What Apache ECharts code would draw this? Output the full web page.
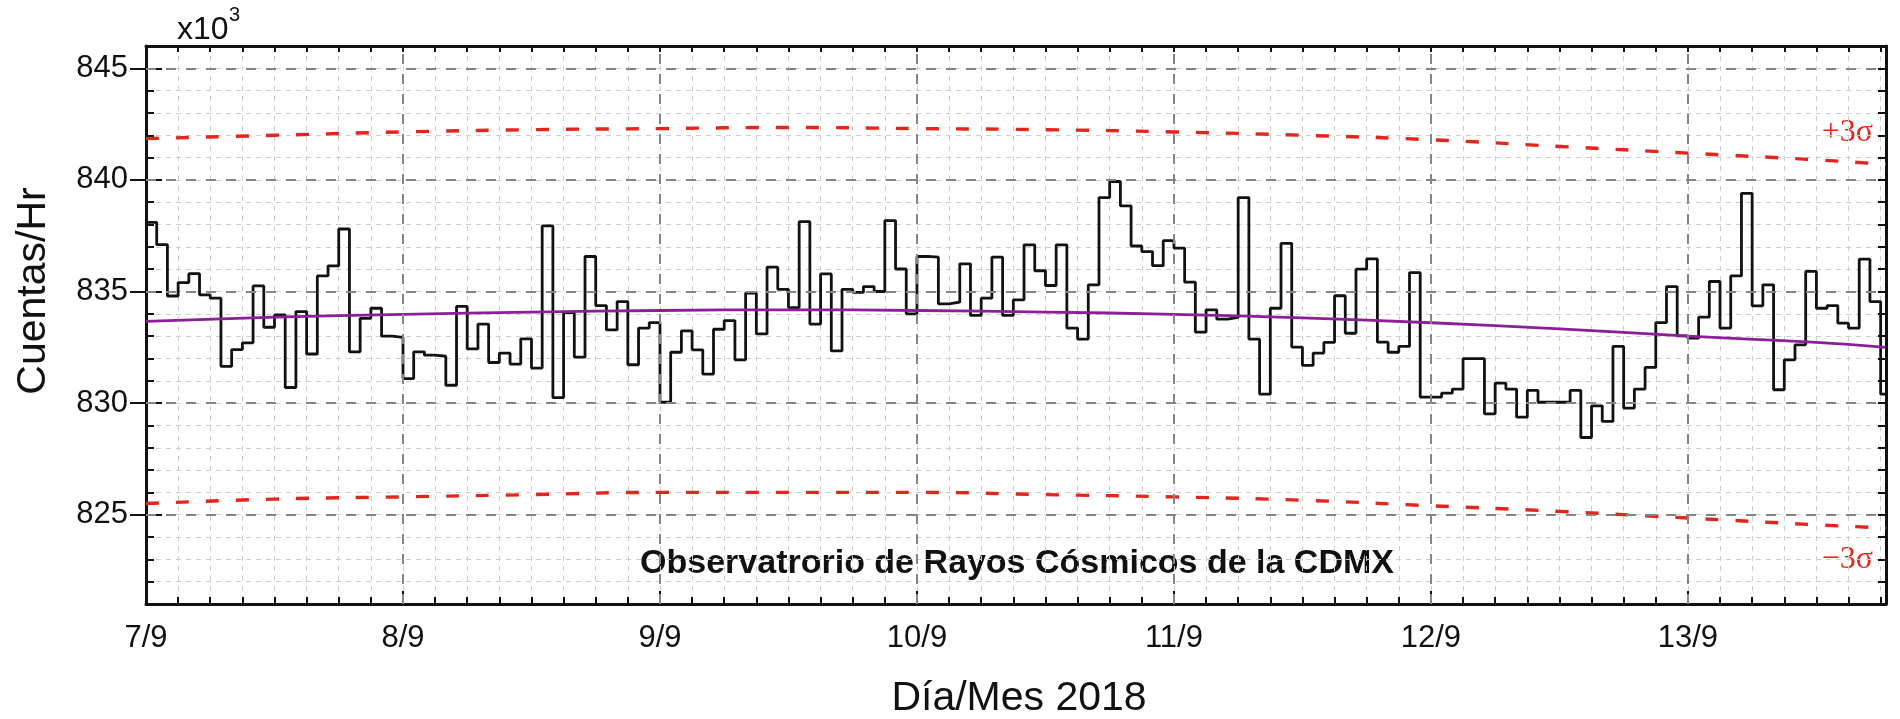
<!DOCTYPE html>
<html>
<head>
<meta charset="utf-8">
<script src="https://cdn.jsdelivr.net/npm/echarts@6/dist/echarts.min.js"></script>
<style>
  html, body { margin: 0; padding: 0; background: #fff; }
  #chart { width: 1900px; height: 719px; }
</style>
</head>
<body>
<div id="chart"></div>
<script>
  // cuentas por hora (x10^3), desde 7/9 00h
  const hourlyCounts = [
    838.1, 837.1, 834.8, 835.4, 835.8, 834.85, 834.7, 831.65, 832.4, 832.7,
    835.25, 833.4, 833.95, 830.7, 834.1, 832.2, 835.7, 836.15, 837.8, 832.3,
    833.8, 834.25, 833.0, 832.95, 831.1, 832.3, 832.15, 832.1, 830.8, 834.33,
    832.43, 833.54, 831.82, 832.24, 831.75, 832.88, 831.57, 837.94, 830.25, 834.06,
    832.06, 836.57, 834.37, 833.28, 834.55, 831.72, 833.36, 833.61, 830.04, 832.28,
    833.24, 832.39, 831.3, 833.31, 833.7, 831.94, 834.93, 833.1, 836.09, 835.1,
    834.28, 838.13, 833.54, 835.79, 832.34, 835.1, 834.96, 835.22, 835.0, 838.18,
    836.01, 834.0, 836.57, 836.54, 834.45, 834.52, 836.24, 833.93, 834.7, 836.54,
    833.93, 834.63, 837.09, 835.93, 835.27, 837.09, 833.36, 832.87, 835.3, 839.21,
    839.93, 838.84, 837.04, 836.79, 836.16, 837.28, 836.94, 835.42, 833.18, 834.18,
    833.76, 833.84, 839.21, 832.87, 830.4, 834.25, 837.16, 832.51, 831.69, 832.24,
    832.72, 834.81, 833.13, 836.0, 836.46, 832.73, 832.28, 832.54, 835.85, 830.27,
    830.27, 830.45, 830.63, 831.99, 831.99, 829.52, 830.9, 830.63, 829.37, 830.57,
    830.04, 830.04, 830.04, 830.57, 828.46, 829.88, 829.18, 832.54, 829.78, 830.63,
    831.6, 833.61, 835.22, 833.01, 832.91, 833.85, 835.45, 833.36, 835.7, 839.4,
    834.36, 835.3, 830.6, 831.94, 832.61, 835.9, 834.25, 834.37, 833.58, 833.36,
    836.45, 834.55, 830.4
  ]
  const hourSpan = 162.5

  const dayHours = [0, 24, 48, 72, 96, 120, 144]
  const dayLabels = ['7/9', '8/9', '9/9', '10/9', '11/9', '12/9', '13/9']
  const yLabels = [825, 830, 835, 840, 845]

  // ajuste y bandas de 3 sigma
  const fitHours = [0, 12, 24, 36, 48, 60, 72, 84, 96, 108, 120, 132, 144, 156, 162.5]
  const fitValues = [833.66, 833.85, 833.98, 834.08, 834.15, 834.18, 834.15, 834.08, 833.98, 833.82, 833.6, 833.33, 833.0, 832.72, 832.5]
  const upperSigma = [841.85, 842.0, 842.15, 842.25, 842.3, 842.35, 842.3, 842.25, 842.15, 842.0, 841.8, 841.5, 841.2, 840.9, 840.7]
  const lowerSigma = [825.5, 825.7, 825.8, 825.9, 826.0, 826.0, 826.0, 825.9, 825.8, 825.65, 825.4, 825.15, 824.85, 824.55, 824.4]

  const font = '"Liberation Sans", Arial, sans-serif'
  const serif = '"Liberation Serif", "Times New Roman", serif'
  const black = '#111'
  const red = '#e3261d'

  const stepData = hourlyCounts.map((v, i) => [i, v])
  stepData.push([hourSpan, hourlyCounts[hourlyCounts.length - 1]])

  const pairs = (xs, ys) => xs.map((x, i) => [x, ys[i]])

  const baseX = {
    type: 'value', min: 0, max: hourSpan, position: 'bottom',
    axisLine: { show: false }, axisLabel: { show: false },
    axisTick: { show: false }, splitLine: { show: false }
  }
  const baseY = {
    type: 'value', min: 821, max: 846, interval: 1, position: 'left',
    axisLine: { show: false }, axisLabel: { show: false },
    axisTick: { show: false }, splitLine: { show: false }
  }
  const minorGrid = { show: true, lineStyle: { color: '#cdcdcd', width: 1, type: [5, 5] } }
  const tickStyle = { color: black, width: 2 }

  const chart = echarts.init(document.getElementById('chart'))
  chart.setOption({
    animation: false,
    backgroundColor: '#fff',
    grid: { left: 146, right: 14, top: 46, bottom: 115 },
    xAxis: [
      {
        ...baseX, interval: 3,
        axisLine: { show: true, lineStyle: { color: black, width: 3 } },
        axisTick: { show: true, inside: true, length: 7, lineStyle: tickStyle },
        axisLabel: {
          show: true, customValues: dayHours, margin: 19,
          formatter: v => dayLabels[Math.round(v / 24)],
          fontSize: 31, color: black, fontFamily: font
        },
        splitLine: minorGrid
      },
      {
        ...baseX,
        axisTick: { show: true, inside: true, length: 13, customValues: dayHours, lineStyle: tickStyle }
      },
      {
        ...baseX, position: 'top', interval: 3,
        axisLine: { show: true, onZero: false, lineStyle: { color: black, width: 3 } },
        axisTick: { show: true, inside: true, length: 6, lineStyle: tickStyle }
      }
    ],
    yAxis: [
      {
        ...baseY,
        axisLine: { show: true, lineStyle: { color: black, width: 3 } },
        axisTick: { show: true, inside: true, length: 8, lineStyle: tickStyle },
        axisLabel: {
          show: true, customValues: yLabels, margin: 18,
          fontSize: 31, color: black, fontFamily: font
        },
        splitLine: minorGrid
      },
      {
        ...baseY,
        axisTick: { show: true, inside: true, length: 16, customValues: yLabels, lineStyle: tickStyle }
      },
      {
        ...baseY, position: 'right',
        axisLine: { show: true, onZero: false, lineStyle: { color: black, width: 3 } },
        axisTick: { show: true, inside: true, length: 8, lineStyle: tickStyle }
      },
      {
        ...baseY, position: 'right',
        axisTick: { show: true, inside: true, length: 16, customValues: yLabels, lineStyle: tickStyle }
      }
    ],
    series: [
      {
        name: '+3σ',
        type: 'line',
        smooth: true,
        symbol: 'none',
        z: 2,
        data: pairs(fitHours, upperSigma),
        lineStyle: { color: red, width: 3.4, type: [13, 17] },
        markLine: {
          silent: true,
          symbol: 'none',
          label: { show: false },
          lineStyle: { color: '#858585', width: 2, type: [10, 10] },
          data: [
            ...yLabels.map(v => ({ yAxis: v })),
            ...dayHours.slice(1).map(h => ({ xAxis: h }))
          ]
        }
      },
      {
        name: '-3σ',
        type: 'line',
        smooth: true,
        symbol: 'none',
        z: 2,
        data: pairs(fitHours, lowerSigma),
        lineStyle: { color: red, width: 3.4, type: [13, 17] }
      },
      {
        name: 'Cuentas',
        type: 'line',
        step: 'end',
        symbol: 'none',
        z: 3,
        data: stepData,
        lineStyle: { color: black, width: 2.8 }
      },
      {
        name: 'Ajuste',
        type: 'line',
        smooth: true,
        symbol: 'none',
        z: 4,
        data: pairs(fitHours, fitValues),
        lineStyle: { color: '#8b1f98', width: 2.8 }
      }
    ],
    graphic: [
      { type: 'text', x: 177, y: 30, style: { text: 'x10', font: '32px ' + font, fill: black, align: 'left', verticalAlign: 'middle' } },
      { type: 'text', x: 229, y: 15, style: { text: '3', font: '20px ' + font, fill: black, align: 'left', verticalAlign: 'middle' } },
      { type: 'text', x: 34, y: 291, rotation: Math.PI / 2, style: { text: 'Cuentas/Hr', font: '41px ' + font, fill: black, align: 'center', verticalAlign: 'middle' } },
      { type: 'text', x: 1019, y: 699, style: { text: 'Día/Mes 2018', font: '41px ' + font, fill: black, align: 'center', verticalAlign: 'middle' } },
      { type: 'text', x: 1017, y: 564, style: { text: 'Observatrorio de Rayos Cósmicos de la CDMX', font: 'bold 34px ' + font, fill: black, align: 'center', verticalAlign: 'middle' } },
      { type: 'text', x: 1873, y: 133, style: { text: '+3σ', font: '32px ' + serif, fill: red, align: 'right', verticalAlign: 'middle' } },
      { type: 'text', x: 1873, y: 560, style: { text: '−3σ', font: '32px ' + serif, fill: red, align: 'right', verticalAlign: 'middle' } }
    ]
  })
</script>
</body>
</html>
